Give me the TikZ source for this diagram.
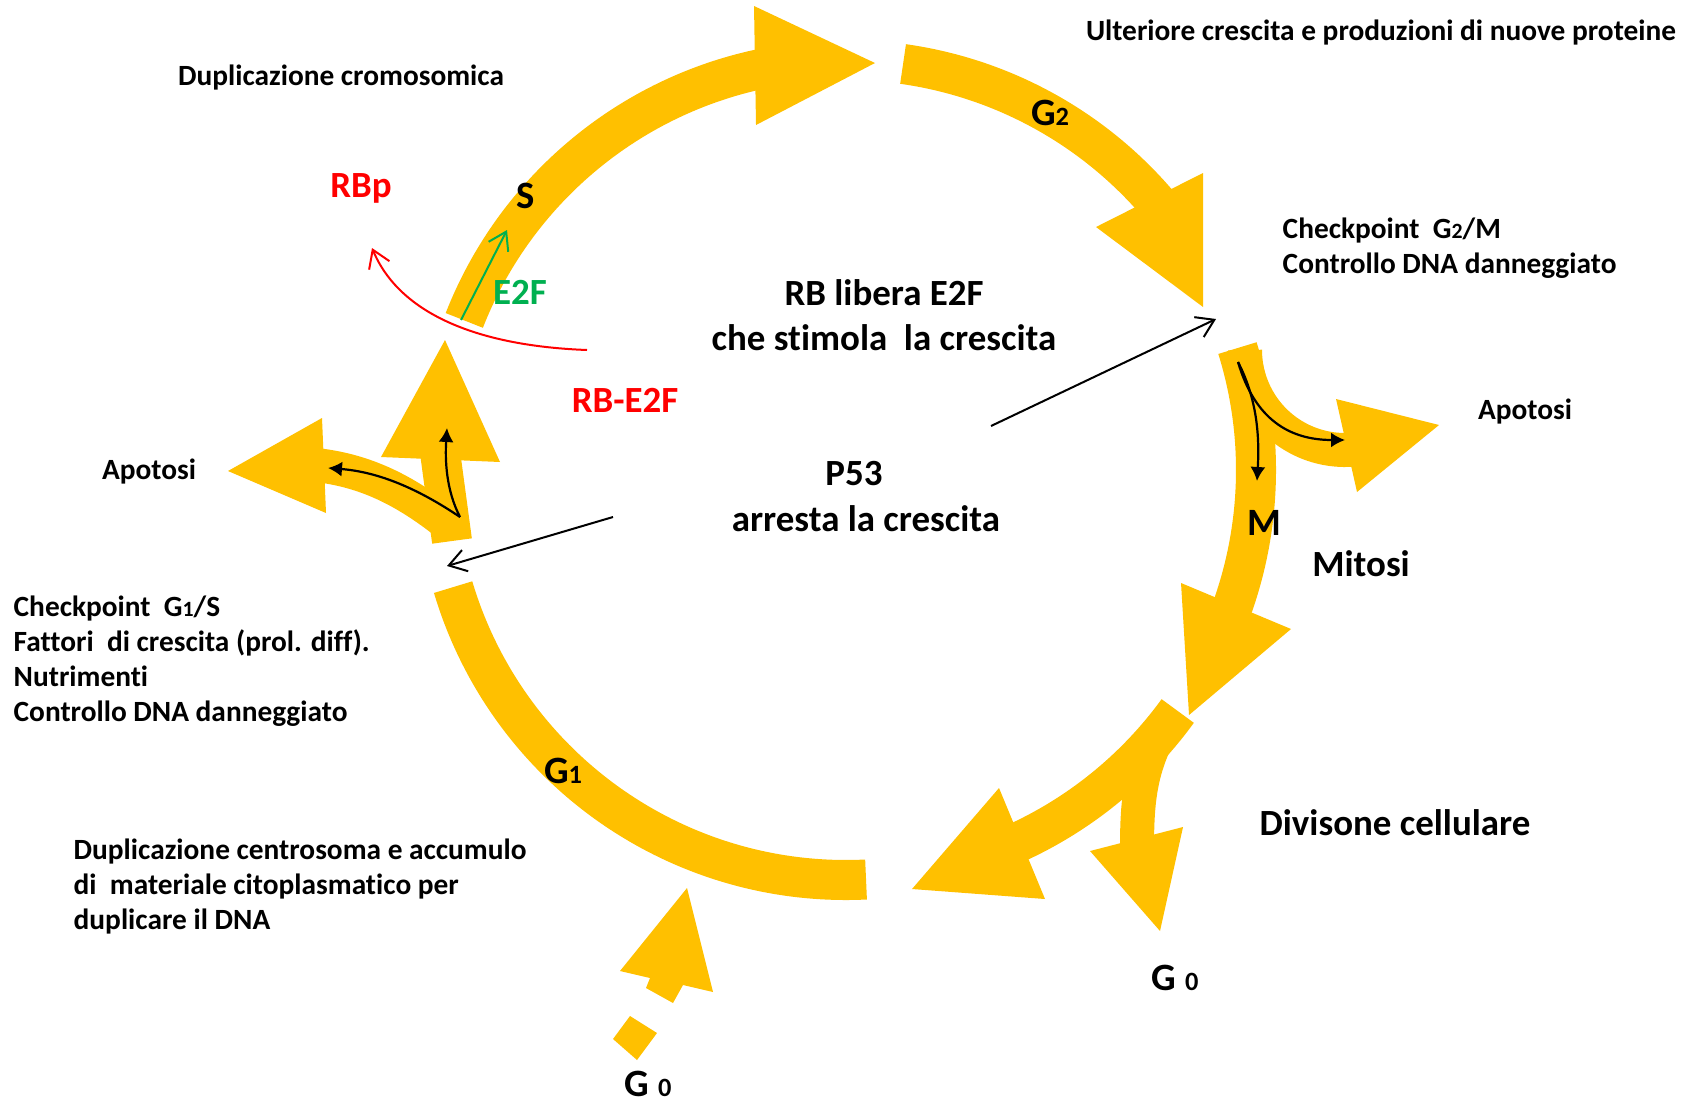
\documentclass[tikz,border=0pt]{standalone}
\usepackage{fontspec}
\setmainfont{Carlito}[Ligatures=NoCommon]
\usetikzlibrary{arrows.meta}
\definecolor{cgold}{RGB}{255,192,0}
\definecolor{cgreen}{RGB}{0,176,80}
\tikzset{band/.style = {cgold, line width=0.4cm}}
\tikzset{branch/.style = {cgold, line width=0.34cm}}
\tikzset{head/.style = {fill=cgold}}
\tikzset{txt/.style = {font=\fontsize{8.35}{9.95}\selectfont\bfseries, inner sep=0}}
\tikzset{big/.style = {font=\fontsize{10.5}{12.95}\selectfont\bfseries, inner sep=0}}
\tikzset{phase/.style = {font=\fontsize{11}{13}\selectfont\bfseries, inner sep=0}}
\tikzset{pointer/.style = {line width=0.02cm, -{Straight Barb[length=0.17cm, width=0.22cm]}}}
\tikzset{tinyarr/.style = {line width=0.022cm, -{Latex[length=0.14cm, width=0.15cm]}}}
\newcommand{\lowsub}[1]{{\fontsize{7.5}{8}\selectfont #1}}
\newcommand{\smallsub}[1]{{\fontsize{6.2}{7}\selectfont #1}}

\begin{document}
\begin{tikzpicture}[x=0.01cm, y=-0.01cm]
  \useasboundingbox (0,0) rectangle (1698,1103);
  \coordinate (C) at (846,470);

  \draw [band] (C) ++(-158.6:410) arc [start angle=-158.6, end angle=-100, radius=410];
  \fill [head] (754,6) -- (875,63) -- (756,125) -- cycle;

  \draw [band] (C) ++(-82:410) arc [start angle=-82, end angle=-39, radius=410];
  \fill [head] (1096,227) -- (1203,173) -- (1203,307) -- cycle;

  \draw [band] (C) ++(-17.3:410) arc [start angle=-17.3, end angle=21, radius=410];
  \fill [head] (1181,583) -- (1291,629) -- (1189,715) -- cycle;
  \draw [branch] (1345,350) ++(180:100) arc [start angle=180, end angle=84, radius=100];
  \fill [head] (1336,399) -- (1439,425) -- (1357,492) -- cycle;

  \draw [band] (C) ++(36:410) arc [start angle=36, end angle=66.5, radius=410];
  \fill [head] (999,788) -- (912,889) -- (1045,899) -- cycle;
  \draw [branch] (1166,722) .. controls (1140,765) and (1137,800) .. (1137,848);
  \fill [head] (1090,851) -- (1160,931) -- (1183,827) -- cycle;

  \draw [band] (C) ++(87.2:410) arc [start angle=87.2, end angle=163.4, radius=410];

  \draw [band] (452,541) -- (440,452);
  \fill [head] (381,457) -- (445,340) -- (500,462) -- cycle;
  \draw [branch] (450,526) .. controls (410,494) and (370,471) .. (316,465);
  \fill [head] (322,418) -- (228,471) -- (326,513) -- cycle;

  \fill [head] (620,971) -- (687,888) -- (713,992) -- (683,985) -- (673,1003) -- (646,988) -- (650,978) -- cycle;
  \fill [head] (630,1016) -- (657,1033) -- (637,1060) -- (613,1039) -- cycle;

  \coordinate (rbstart) at (587,350);
  \coordinate (rbend) at (372,248);
  \coordinate (e2fstart) at (461,320);
  \coordinate (e2fend) at (507,230);
  \coordinate (p53up) at (991,426);
  \coordinate (g2mpt) at (1216,319);
  \coordinate (p53down) at (613,517);
  \coordinate (g1spt) at (447,566);
  \coordinate (forkL) at (460,517);
  \coordinate (forkLup) at (447,428);
  \coordinate (forkLleft) at (328,468);
  \coordinate (forkR) at (1238,362);
  \coordinate (forkRdown) at (1257,481);
  \coordinate (forkRright) at (1345,440);

  \draw [red, pointer] (rbstart) .. controls (480,346) and (400,315) .. (rbend);
  \draw [cgreen, pointer] (e2fstart) -- (e2fend);
  \draw [pointer] (p53up) -- (g2mpt);
  \draw [pointer] (p53down) -- (g1spt);
  \draw [tinyarr] (forkL) .. controls (446,490) and (445,460) .. (forkLup);
  \draw [tinyarr] (forkL) .. controls (420,490) and (380,472) .. (forkLleft);
  \draw [tinyarr] (forkR) .. controls (1255,395) and (1260,430) .. (forkRdown);
  \draw [tinyarr] (forkR) .. controls (1255,420) and (1290,440) .. (forkRright);

  \node [txt] (dupcrom) at (341,78) {Duplicazione cromosomica};
  \node [big, red] (rbp) at (361,188) {RBp};
  \node [phase] (lbS) at (526,196) {S};
  \node [big, cgreen] (e2f) at (520,292) {E2F};
  \node [phase] (lbG2) at (1050,113) {G\lowsub{2}};
  \node [txt] (ulteriore) at (1381,33) {Ulteriore crescita e produzioni di nuove proteine};
  \node [txt, anchor=west, align=left] (ckgtwo) at (1282,248) {Checkpoint\ \ G\smallsub{2}/M\\Controllo DNA danneggiato};
  \node [big, align=center] (rblibera) at (884,315) {RB libera E2F\\che stimola\ \ la crescita};
  \node [big, red] (rbe2f) at (625,400) {RB-E2F};
  \node [txt] (apoR) at (1525,411) {Apotosi};
  \node [txt] (apoL) at (149,471) {Apotosi};
  \node [big] (p53) at (854,474) {P53};
  \node [big] (arresta) at (866,519) {arresta la crescita};
  \node [phase] (lbM) at (1264,523) {M};
  \node [big] (mitosi) at (1361,564) {Mitosi};
  \node [txt, anchor=west, align=left] (ckgone) at (13,661) {Checkpoint\ \ G\smallsub{1}/S\\Fattori\ \ di crescita (prol. diff).\\Nutrimenti\\Controllo DNA danneggiato};
  \node [phase] (lbG1) at (563,771) {G\lowsub{1}};
  \node [big] (divisione) at (1395,823) {Divisone cellulare};
  \node [txt, anchor=west, align=left] (dupcentro) at (73,886) {Duplicazione centrosoma e accumulo\\di\ \ materiale citoplasmatico per\\duplicare il DNA};
  \node [phase] (gzeroR) at (1175,978) {G \lowsub{0}};
  \node [phase] (gzeroB) at (648,1084) {G \lowsub{0}};
\end{tikzpicture}
\end{document}
